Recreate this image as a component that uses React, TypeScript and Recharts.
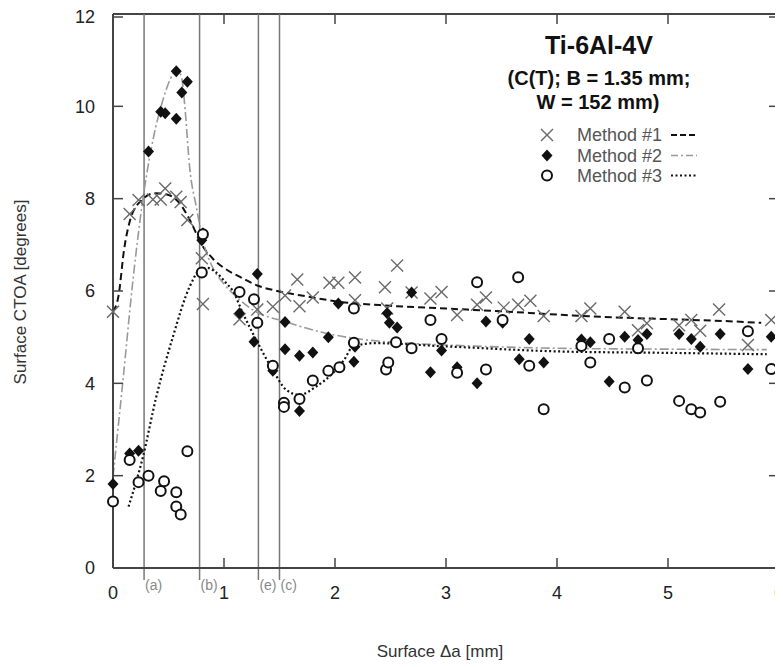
import React from "react";
import {
  ComposedChart,
  XAxis,
  YAxis,
  Scatter,
  Line,
  ReferenceLine,
} from "recharts";

// ─── Data ────────────────────────────────────────────────────────────────────
const X_TICKS = [0, 1, 2, 3, 4, 5, 6];
const Y_TICKS = [0, 2, 4, 6, 8, 10, 12];

// Method #1 (x markers)
const method1Points: [number, number][] = [
  [0, 5.55], [0.15, 7.67], [0.23, 7.97], [0.36, 7.98], [0.43, 7.98], [0.47, 8.22],
  [0.57, 8.04], [0.61, 7.93], [0.67, 7.54], [0.8, 6.71], [0.81, 5.72], [1.14, 5.39],
  [1.3, 5.6], [1.44, 5.66], [1.55, 5.9], [1.66, 6.25], [1.68, 5.67], [1.8, 5.86],
  [1.95, 6.18], [2.03, 6.18], [2.18, 6.29], [2.18, 5.8], [2.45, 6.08], [2.47, 5.62],
  [2.56, 6.55], [2.69, 5.97], [2.86, 5.84], [2.96, 5.98], [3.1, 5.48], [3.28, 5.7],
  [3.36, 5.86], [3.52, 5.64], [3.65, 5.7], [3.76, 5.79], [3.88, 5.46], [4.22, 5.46],
  [4.3, 5.62], [4.61, 5.55], [4.73, 5.15], [4.81, 5.3], [5.1, 5.26], [5.21, 5.37],
  [5.29, 5.14], [5.46, 5.6], [5.72, 4.83], [5.93, 5.37],
];

// Method #2 (filled diamonds)
const method2Points: [number, number][] = [
  [0, 1.82], [0.15, 2.48], [0.23, 2.54], [0.32, 9.02], [0.43, 9.88], [0.47, 9.85],
  [0.57, 9.73], [0.57, 10.76], [0.62, 10.3], [0.67, 10.53], [0.81, 7.25], [0.8, 7.1],
  [1.3, 6.37], [1.14, 5.52], [1.27, 4.9], [1.44, 4.27], [1.55, 5.33], [1.55, 4.74],
  [1.68, 3.4], [1.68, 4.6], [1.8, 4.67], [1.94, 5.0], [2.03, 5.73], [2.17, 4.47],
  [2.18, 4.79], [2.47, 5.52], [2.49, 5.31], [2.56, 5.21], [2.69, 5.97], [2.86, 4.24],
  [2.96, 4.71], [3.1, 4.35], [3.28, 4.0], [3.36, 5.34], [3.51, 5.31], [3.66, 4.52],
  [3.75, 4.96], [3.88, 4.45], [4.22, 4.95], [4.3, 4.89], [4.47, 4.04], [4.61, 5.01],
  [4.73, 4.94], [4.81, 5.07], [5.1, 5.07], [5.21, 4.96], [5.29, 4.79], [5.47, 5.07],
  [5.72, 4.31], [5.93, 5.01],
];

// Method #3 (open circles)
const method3Points: [number, number][] = [
  [0, 1.44], [0.15, 2.34], [0.23, 1.86], [0.32, 2.0], [0.43, 1.67], [0.46, 1.88],
  [0.57, 1.64], [0.57, 1.33], [0.61, 1.16], [0.67, 2.53], [0.81, 7.23], [0.8, 6.4],
  [1.14, 5.98], [1.27, 5.82], [1.3, 5.31], [1.44, 4.38], [1.54, 3.58], [1.54, 3.49],
  [1.68, 3.66], [1.8, 4.06], [1.94, 4.27], [2.04, 4.35], [2.17, 5.62], [2.17, 4.88],
  [2.46, 4.3], [2.48, 4.45], [2.55, 4.89], [2.69, 4.76], [2.86, 5.37], [2.96, 4.96],
  [3.1, 4.23], [3.28, 6.19], [3.36, 4.3], [3.51, 5.37], [3.65, 6.3], [3.75, 4.38],
  [3.88, 3.44], [4.22, 4.81], [4.3, 4.45], [4.47, 4.96], [4.61, 3.91], [4.73, 4.76],
  [4.81, 4.06], [5.1, 3.62], [5.21, 3.44], [5.29, 3.37], [5.47, 3.6], [5.72, 5.13],
  [5.93, 4.31],
];

// fitted curves
const method1Fit: [number, number][] = [
  [0, 5.55], [0.05, 5.9], [0.1, 6.9], [0.15, 7.5], [0.25, 7.95], [0.38, 8.12],
  [0.5, 8.08], [0.6, 7.9], [0.7, 7.5], [0.8, 7.0], [0.9, 6.7], [1.0, 6.5],
  [1.14, 6.31], [1.3, 6.12], [1.5, 5.99], [1.75, 5.88], [2.0, 5.78], [2.5, 5.68],
  [3.0, 5.62], [3.5, 5.56], [4.0, 5.49], [4.5, 5.43], [5.0, 5.39], [5.5, 5.35],
  [5.84, 5.31],
];

const method2Fit: [number, number][] = [
  [0, 1.98], [0.09, 4.07], [0.18, 6.24], [0.26, 7.83], [0.36, 9.27], [0.45, 10.14],
  [0.54, 10.7], [0.58, 10.8], [0.62, 10.6], [0.65, 9.92], [0.69, 8.69], [0.75, 7.83],
  [0.81, 7.1], [0.9, 6.5], [1.0, 6.15], [1.1, 5.9], [1.26, 5.59], [1.56, 5.33],
  [1.93, 5.08], [2.13, 4.99], [2.65, 4.87], [3.0, 4.83], [4.0, 4.76], [5.0, 4.74],
  [5.89, 4.73],
];

const method3Fit: [number, number][] = [
  [0.14, 1.33], [0.27, 2.41], [0.39, 3.71], [0.54, 5.01], [0.69, 6.09], [0.78, 6.45],
  [0.85, 6.5], [0.92, 6.42], [1.02, 6.17], [1.08, 6.0], [1.17, 5.52], [1.29, 4.94],
  [1.44, 4.29], [1.56, 3.86], [1.68, 3.75], [1.83, 3.93], [1.98, 4.22], [2.08, 4.5],
  [2.16, 4.79], [2.35, 4.87], [3.0, 4.8], [4.03, 4.69], [5.0, 4.66], [5.89, 4.63],
];

// event markers along the crack extension axis
const EVENT_LABELS = ["(a)", "(b)", "(e)", "(c)"];
const EVENT_X = [0.28, 0.78, 1.31, 1.5];

const toXY = (pts: [number, number][]) => pts.map(([x, y]) => ({ x, y }));

// ─── Styling ─────────────────────────────────────────────────────────────────
const FONT = "'Liberation Sans', Arial, sans-serif";
const AXIS = "#444";
const PLOT = { left: 105, right: 771, top: 6, bottom: 560 };

// ─── Markers ─────────────────────────────────────────────────────────────────
const Cross = ({ cx, cy }: any) => (
  <g stroke="#6a6a6a" strokeWidth={1.4}>
    <line x1={cx - 6} y1={cy - 6} x2={cx + 6} y2={cy + 6} />
    <line x1={cx - 6} y1={cy + 6} x2={cx + 6} y2={cy - 6} />
  </g>
);

const Diamond = ({ cx, cy }: any) => (
  <polygon
    points={`${cx},${cy - 6} ${cx + 5.5},${cy} ${cx},${cy + 6} ${cx - 5.5},${cy}`}
    fill="#111"
  />
);

const Ring = ({ cx, cy }: any) => (
  <circle cx={cx} cy={cy} r={5} fill="#fff" stroke="#111" strokeWidth={2} />
);

// ─── Ticks (inward, on all four sides) ───────────────────────────────────────
const YTick = ({ x, y, payload }: any) => (
  <g>
    <line x1={PLOT.left} x2={PLOT.left + 10} y1={y} y2={y} stroke={AXIS} strokeWidth={1.5} />
    <line x1={PLOT.right - 10} x2={PLOT.right} y1={y} y2={y} stroke={AXIS} strokeWidth={1.5} />
    <text x={x} y={y} dy="0.36em" textAnchor="end" fontSize={18} fill="#222" fontFamily={FONT}>
      {payload.value}
    </text>
  </g>
);

const XTick = ({ x, y, payload }: any) => (
  <g>
    <line x1={x} x2={x} y1={PLOT.bottom} y2={PLOT.bottom - 10} stroke={AXIS} strokeWidth={1.5} />
    <line x1={x} x2={x} y1={PLOT.top} y2={PLOT.top + 10} stroke={AXIS} strokeWidth={1.5} />
    <text x={x} y={y} dy="0.36em" textAnchor="middle" fontSize={18} fill="#222" fontFamily={FONT}>
      {payload.value}
    </text>
  </g>
);

const eventLabel = (text: string) => (props: any) => {
  const { x, y, height } = props.viewBox;
  const base = y + height;
  return (
    <g>
      <line x1={x} x2={x} y1={base} y2={base + 12} stroke="#777" strokeWidth={1.5} />
      <text x={x + 1} y={base + 17} dy="0.36em" fontSize={14} fill="#888" fontFamily={FONT}>
        {text}
      </text>
    </g>
  );
};

// ─── Chart ───────────────────────────────────────────────────────────────────
const App: React.FC = () => {
  return (
    <div style={{ position: "relative", width: 775, height: 659 }}>
      <ComposedChart width={775} height={659} margin={{ top: 6, right: 4, bottom: 0, left: 0 }}>
        <XAxis
          type="number"
          dataKey="x"
          domain={[0, 6]}
          ticks={X_TICKS}
          height={99}
          tickSize={0}
          tickMargin={25}
          tick={<XTick />}
          axisLine={{ stroke: AXIS, strokeWidth: 2 }}
          label={(p: any) => {
            const { x, y, width } = p.viewBox;
            return (
              <text x={x + width / 2 - 6} y={y + 83} dy="0.36em" textAnchor="middle" fontSize={17} fill="#333" fontFamily={FONT}>
                Surface Δa [mm]
              </text>
            );
          }}
        />
        <YAxis
          type="number"
          dataKey="y"
          domain={[0, 12]}
          ticks={Y_TICKS}
          width={105}
          tickSize={0}
          tickMargin={18}
          tick={<YTick />}
          axisLine={{ stroke: AXIS, strokeWidth: 2 }}
          label={(p: any) => {
            const { x, y, height } = p.viewBox;
            const cy = y + height / 2 + 1;
            return (
              <text x={x + 12} y={cy} dy="0.36em" textAnchor="middle" fontSize={17} fill="#333" fontFamily={FONT} transform={`rotate(-90 ${x + 12} ${cy})`}>
                Surface CTOA [degrees]
              </text>
            );
          }}
        />

        {/* frame */}
        <ReferenceLine y={12} stroke={AXIS} strokeWidth={2} />
        <ReferenceLine x={6} stroke={AXIS} strokeWidth={2} />

        {EVENT_X.map((ex, i) => (
          <ReferenceLine key={EVENT_LABELS[i]} x={ex} stroke="#777" strokeWidth={1.5} label={eventLabel(EVENT_LABELS[i])} />
        ))}

        <Line data={toXY(method1Fit)} dataKey="y" type="monotone" stroke="#111" strokeWidth={2} strokeDasharray="7 4" dot={false} isAnimationActive={false} />
        <Line data={toXY(method2Fit)} dataKey="y" type="monotone" stroke="#999" strokeWidth={1.6} strokeDasharray="9 3 2 3" dot={false} isAnimationActive={false} />
        <Line data={toXY(method3Fit)} dataKey="y" type="monotone" stroke="#111" strokeWidth={2.2} strokeDasharray="2 2.5" dot={false} isAnimationActive={false} />

        <Scatter data={toXY(method1Points)} shape={<Cross />} isAnimationActive={false} />
        <Scatter data={toXY(method2Points)} shape={<Diamond />} isAnimationActive={false} />
        <Scatter data={toXY(method3Points)} shape={<Ring />} isAnimationActive={false} />
      </ComposedChart>

      {/* title + legend */}
      <svg width={775} height={659} style={{ position: "absolute", left: 0, top: 0, pointerEvents: "none" }}>
        <g fontFamily={FONT} textAnchor="middle" fill="#111" fontWeight="bold">
          <text x={591} y={37} dy="0.36em" fontSize={25}>Ti-6Al-4V</text>
          <text x={591} y={70} dy="0.36em" fontSize={20}>(C(T); B = 1.35 mm;</text>
          <text x={590} y={94} dy="0.36em" fontSize={20}>W = 152 mm)</text>
        </g>
        <Cross cx={539} cy={127} />
        <Diamond cx={539} cy={147.5} />
        <Ring cx={539} cy={167.5} />
        <g fontFamily={FONT} fontSize={18} fill="#555">
          <text x={569} y={127} dy="0.36em">Method #1</text>
          <text x={569} y={147.5} dy="0.36em">Method #2</text>
          <text x={569} y={167.5} dy="0.36em">Method #3</text>
        </g>
        <line x1={663} x2={689} y1={127} y2={127} stroke="#111" strokeWidth={2} strokeDasharray="6 3" />
        <line x1={663} x2={689} y1={147.5} y2={147.5} stroke="#999" strokeWidth={1.6} strokeDasharray="7 3 2 3" />
        <line x1={663} x2={689} y1={167.5} y2={167.5} stroke="#111" strokeWidth={2} strokeDasharray="2 2.5" />
      </svg>
    </div>
  );
};

export default App;
